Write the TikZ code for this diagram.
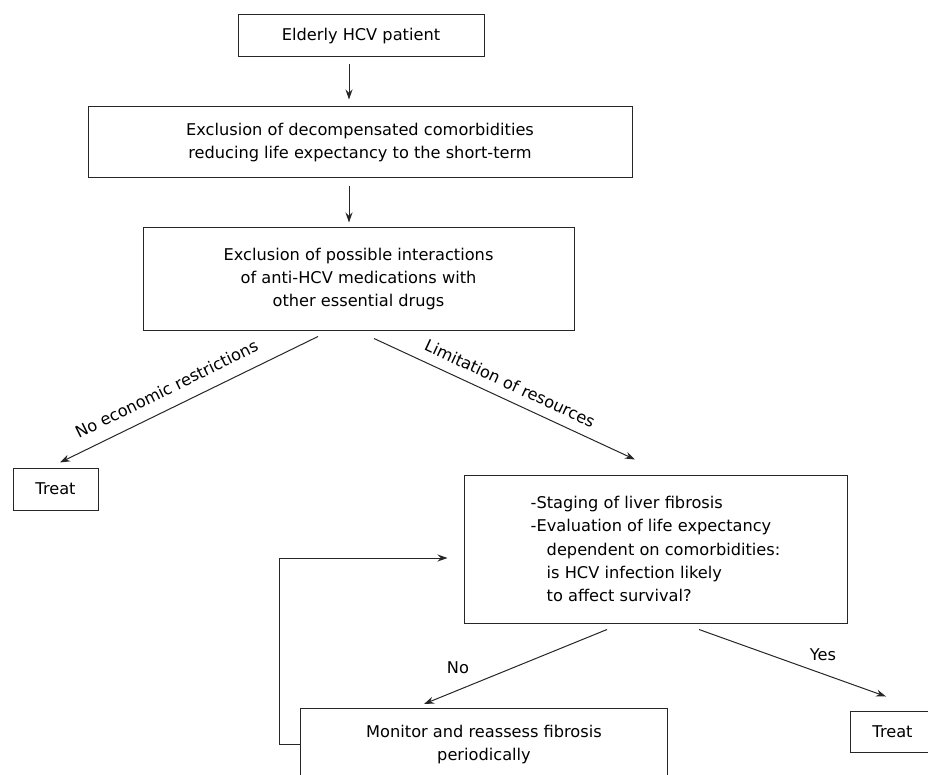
\documentclass[tikz,border=0pt]{standalone}
\usepackage{fontspec}
\setmainfont{DejaVu Sans}
\usetikzlibrary{shapes,arrows.meta}
\tikzstyle{bx}=[rectangle,draw=black!85,line width=1pt,inner sep=0pt,align=center,font=\fontsize{16.2}{23.4}\selectfont]
\tikzstyle{lbl}=[inner sep=0pt,font=\fontsize{16.2}{23.4}\selectfont]
\tikzstyle{ar}=[->,black!85,line width=1pt]

\begin{document}
\begin{tikzpicture}[x=1pt,y=-1pt,>={Stealth[length=10pt,width=7pt]}]
\useasboundingbox (0,0) rectangle (928,775);
\node[bx,minimum width=246pt,minimum height=42pt] (elderly) at (361,36) {Elderly HCV patient};
\node[bx,minimum width=544pt,minimum height=71pt] (excl) at (360,142.5) {Exclusion of decompensated comorbidities\\reducing life expectancy to the short-term};
\node[bx,minimum width=431pt,minimum height=102pt] (drugs) at (358.5,279) {Exclusion of possible interactions\\of anti-HCV medications with\\other essential drugs};
\node[bx,minimum width=85pt,minimum height=42pt] (treatL) at (55.5,489) {Treat};
\node[bx,align=left,minimum width=383pt,minimum height=148pt] (stage) at (655.5,549) {-Staging of liver fibrosis\\-Evaluation of life expectancy\\\hspace*{16pt}dependent on comorbidities:\\\hspace*{16pt}is HCV infection likely\\\hspace*{16pt}to affect survival?};
\node[bx,anchor=north,minimum width=367pt,minimum height=72pt] (monitor) at (484,708) {Monitor and reassess fibrosis\\periodically};
\node[bx,minimum width=85pt,minimum height=41pt] (treatR) at (892.5,731.5) {Treat};
%
\draw[ar] ([xshift=-12pt,yshift=-7pt]elderly.south) -- ([xshift=-11pt,yshift=7pt]excl.north);
\draw[ar] ([xshift=-11pt,yshift=-8pt]excl.south) -- ([xshift=-9.5pt,yshift=5pt]drugs.north);
\draw[ar] ([xshift=-40.5pt,yshift=-6pt]drugs.south) -- ([xshift=4.5pt,yshift=5pt]treatL.north);
\draw[ar] ([xshift=15.5pt,yshift=-8pt]drugs.south) -- ([xshift=-20.5pt,yshift=15pt]stage.north);
\draw[ar] ([xshift=-48.5pt,yshift=-6pt]stage.south) -- ([xshift=-60pt,yshift=4pt]monitor.north);
\draw[ar] ([xshift=43.5pt,yshift=-6pt]stage.south) -- ([xshift=-6.5pt,yshift=14pt]treatR.north);
\draw[ar] (monitor.west) -- ++(-21,0) |- ([xshift=-16pt,yshift=-9pt]stage.west);
%
\node[lbl,rotate=26.2] (noecon) at (166.5,389) {No economic restrictions};
\node[lbl,rotate=-25] (limit) at (510,383.5) {Limitation of resources};
\node[lbl] (no) at (458,668) {No};
\node[lbl] (yes) at (823,655) {Yes};
\end{tikzpicture}
\end{document}
